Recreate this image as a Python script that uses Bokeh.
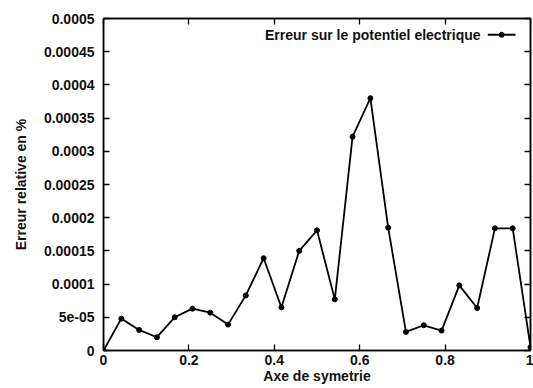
from bokeh.plotting import figure
from bokeh.models import Range1d, LinearAxis, FixedTicker, Label
from bokeh.embed import file_html
from bokeh.resources import INLINE

# Data
x_vals = [0.0, 0.0417, 0.0833, 0.125, 0.1667, 0.2083, 0.25, 0.2917, 0.3333,
          0.375, 0.4167, 0.4583, 0.5, 0.5417, 0.5833, 0.625, 0.6667, 0.7083,
          0.75, 0.7917, 0.8333, 0.875, 0.9167, 0.9583, 1.0]
y_vals = [0.0, 4.8e-05, 3.1e-05, 2.0e-05, 5.0e-05, 6.3e-05, 5.7e-05, 3.9e-05,
          8.3e-05, 1.39e-04, 6.5e-05, 1.50e-04, 1.81e-04, 7.7e-05, 3.22e-04,
          3.80e-04, 1.85e-04, 2.8e-05, 3.8e-05, 3.0e-05, 9.8e-05, 6.4e-05,
          1.84e-04, 1.84e-04, 5e-06]
x_ticks = [0, 0.2, 0.4, 0.6, 0.8, 1.0]
x_tick_labels = ["0", "0.2", "0.4", "0.6", "0.8", "1"]
y_ticks = [0, 0.00005, 0.0001, 0.00015, 0.0002, 0.00025, 0.0003, 0.00035,
           0.0004, 0.00045, 0.0005]
y_tick_labels = ["0", "5e-05", "0.0001", "0.00015", "0.0002", "0.00025",
                 "0.0003", "0.00035", "0.0004", "0.00045", "0.0005"]
series_name = "Erreur sur le potentiel electrique"
x_title = "Axe de symetrie"
y_title = "Erreur relative en %"

FONT = "Liberation Sans"
FS = "14px"

p = figure(frame_width=427, frame_height=332, output_backend="svg",
           toolbar_location=None,
           x_range=Range1d(0, 1), y_range=Range1d(0, 0.0005),
           min_border_left=103, min_border_right=3, min_border_top=18,
           min_border_bottom=38)
p.background_fill_color = "white"
p.border_fill_color = "white"
p.outline_line_color = "black"
p.outline_line_width = 1.5
p.xgrid.visible = False
p.ygrid.visible = False


def style_axis(ax, ticks, labels, show_labels):
    ax.ticker = FixedTicker(ticks=ticks)
    ax.major_label_overrides = {t: l for t, l in zip(ticks, labels)}
    ax.major_tick_in = 6
    ax.major_tick_out = 0
    ax.minor_tick_in = 0
    ax.minor_tick_out = 0
    ax.major_tick_line_color = "black"
    ax.major_tick_line_width = 1.3
    ax.axis_line_color = "black"
    ax.axis_line_width = 1.5
    ax.major_label_text_font = FONT
    ax.major_label_text_font_style = "bold"
    ax.major_label_text_font_size = FS if show_labels else "0px"
    ax.major_label_text_color = "#111111"
    ax.axis_label_text_font = FONT
    ax.axis_label_text_font_style = "bold"
    ax.axis_label_text_font_size = FS
    ax.axis_label_text_color = "#111111"


xa = p.xaxis[0]
ya = p.yaxis[0]
style_axis(xa, x_ticks, x_tick_labels, True)
style_axis(ya, y_ticks, y_tick_labels, True)
xa.axis_label = x_title
ya.axis_label = y_title
xa.major_label_standoff = 4
xa.axis_label_standoff = 0
ya.major_label_standoff = 9
ya.axis_label_standoff = 12

top = LinearAxis()
style_axis(top, x_ticks, ["" for _ in x_ticks], False)
top.major_label_standoff = 0
right = LinearAxis()
style_axis(right, y_ticks, ["" for _ in y_ticks], False)
right.major_label_standoff = 0
p.add_layout(top, "above")
p.add_layout(right, "right")

p.line(x_vals, y_vals, line_color="black", line_width=1.8)
p.scatter(x_vals, y_vals, marker="circle", size=5, fill_color="black",
          line_color="black")

# Legend in gnuplot style (text, then line sample with point)
xr0, xr1 = 0.0, 1.0
yr0, yr1 = 0.0, 0.0005
ly = yr0 + 0.951 * (yr1 - yr0)
p.add_layout(Label(x=xr0 + 0.883 * (xr1 - xr0), y=ly, text=series_name,
                   text_align="right", text_baseline="middle",
                   text_font=FONT, text_font_style="bold",
                   text_font_size=FS, text_color="#111111"))
sx = [xr0 + 0.900 * (xr1 - xr0), xr0 + 0.965 * (xr1 - xr0)]
p.line(sx, [ly, ly], line_color="black", line_width=1.8)
p.scatter([sum(sx) / 2], [ly], marker="circle", size=5, fill_color="black",
          line_color="black")

open("out.html", "w").write(file_html(p, INLINE))
